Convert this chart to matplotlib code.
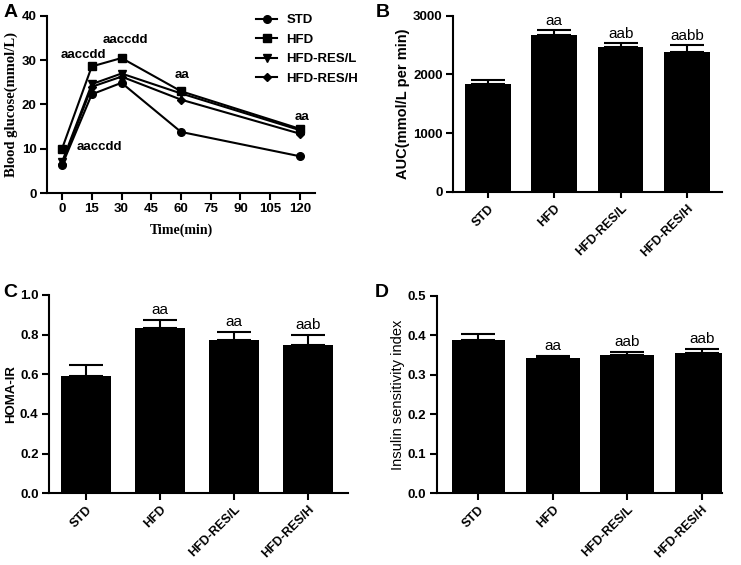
import numpy as np
import matplotlib
matplotlib.use('Agg')
import matplotlib.pyplot as plt

plt.rcParams['font.family'] = 'Liberation Sans'
plt.rcParams['font.weight'] = 'bold'

# Panel A: glucose tolerance
time_min = [0, 15, 30, 60, 120]
glu_std = [6.3, 22.3, 24.9, 13.8, 8.3]
glu_hfd = [10.0, 28.6, 30.5, 23.0, 14.5]
glu_resl = [7.0, 24.6, 27.0, 22.5, 14.2]
glu_resh = [6.6, 24.0, 26.3, 21.1, 13.4]

groups = ['STD', 'HFD', 'HFD-RES/L', 'HFD-RES/H']

# Panel B: AUC
auc = [1834, 2671, 2473, 2388]
auc_err = [73, 79, 57, 108]
auc_sig = ['', 'aa', 'aab', 'aabb']

# Panel C: HOMA-IR
homa = [0.592, 0.832, 0.774, 0.746]
homa_err = [0.057, 0.040, 0.038, 0.052]
homa_sig = ['', 'aa', 'aa', 'aab']

# Panel D: insulin sensitivity index
isi = [0.388, 0.343, 0.351, 0.356]
isi_err = [0.016, 0.004, 0.007, 0.009]
isi_sig = ['', 'aa', 'aab', 'aab']

fig = plt.figure(figsize=(7.41, 5.65), dpi=100)

def style(ax):
    ax.spines['top'].set_visible(False)
    ax.spines['right'].set_visible(False)
    ax.spines['left'].set_linewidth(1.5)
    ax.spines['bottom'].set_linewidth(1.5)
    ax.tick_params(width=1.5, length=5, labelsize=9.5, pad=2.5)
    for lab in ax.get_xticklabels() + ax.get_yticklabels():
        lab.set_fontweight('bold')

# ---- A ----
axA = fig.add_axes([0.0634, 0.6584, 0.3617, 0.3133])
series = [(glu_std, 'o', 'STD'), (glu_hfd, 's', 'HFD'),
          (glu_resl, 'v', 'HFD-RES/L'), (glu_resh, 'D', 'HFD-RES/H')]
for vals, mk, lab in series:
    axA.plot(time_min, vals, color='black', marker=mk, markersize=5.5 if mk != 'D' else 4.5,
             linewidth=1.5, label=lab)
axA.set_xlim(-7.6, 127.6)
axA.set_ylim(0, 40)
axA.set_xticks([0, 15, 30, 45, 60, 75, 90, 105, 120])
axA.set_yticks([0, 10, 20, 30, 40])
axA.set_ylabel('Blood glucose(mmol/L)', family='Liberation Serif', fontsize=10.5,
               fontweight='bold', labelpad=3)
axA.set_xlabel('Time(min)', family='Liberation Serif', fontsize=10, fontweight='bold', labelpad=6)
style(axA)
leg = axA.legend(loc='upper left', frameon=False, fontsize=9.5, handlelength=1.6,
                 handletextpad=0.7, bbox_to_anchor=(0.78, 1.01), labelspacing=0.55,
                 borderpad=0, borderaxespad=0)
for t in leg.get_texts():
    t.set_fontweight('bold')
notesA = [(10.6, 31.2, 'aaccdd'), (32, 34.6, 'aaccdd'), (18.7, 10.4, 'aaccdd'),
          (60.3, 26.6, 'aa'), (120.9, 17.2, 'aa')]
for x, y, s in notesA:
    axA.text(x, y, s, ha='center', va='center', fontsize=9.5, fontweight='bold')

def bar_panel(rect, vals, errs, sig, ylim, yticks, ylabel, xlim, width, ylfs=10, ylw='bold'):
    ax = fig.add_axes(rect)
    x = np.arange(len(groups))
    ax.bar(x, vals, width=width, color='black')
    ax.errorbar(x, vals, yerr=[np.zeros(len(vals)), errs], fmt='none', ecolor='black',
                elinewidth=1.5, capsize=12, capthick=1.5)
    for xi, v, e, s in zip(x, vals, errs, sig):
        if s:
            ax.text(xi, v + e + (ylim[1] - ylim[0]) * 0.015, s, ha='center', va='bottom',
                    fontsize=11, fontweight='normal')
    ax.set_xlim(*xlim)
    ax.set_ylim(*ylim)
    ax.set_yticks(yticks)
    ax.set_xticks(x)
    ax.set_xticklabels(groups, rotation=45, ha='right', rotation_mode='anchor')
    ax.set_ylabel(ylabel, fontsize=ylfs, fontweight=ylw, labelpad=2)
    style(ax)
    for lab in ax.get_xticklabels():
        lab.set_fontsize(9)
    return ax

axB = bar_panel([0.6113, 0.6602, 0.363, 0.312], auc, auc_err, auc_sig, (0, 3000),
                [0, 1000, 2000, 3000], 'AUC(mmol/L per min)', (-0.53, 3.53), 0.69, ylfs=10.5)
axB.tick_params(axis='x', length=4, pad=3.5)

axC = bar_panel([0.0661, 0.1269, 0.4035, 0.351], homa, homa_err, homa_sig, (0, 1.0),
                [0.0, 0.2, 0.4, 0.6, 0.8, 1.0], 'HOMA-IR', (-0.5, 3.54), 0.68, ylfs=9.5)
axC.yaxis.set_major_formatter(plt.FormatStrFormatter('%.1f'))

axD = bar_panel([0.5893, 0.1274, 0.3846, 0.349], isi, isi_err, isi_sig, (0, 0.5),
                [0.0, 0.1, 0.2, 0.3, 0.4, 0.5], 'Insulin sensitivity index', (-0.56, 3.27), 0.72,
                ylfs=10.5, ylw='normal')
axD.yaxis.set_major_formatter(plt.FormatStrFormatter('%.1f'))

for lbl, x, y in [('A', 0.005, 0.977), ('B', 0.507, 0.977), ('C', 0.004, 0.482), ('D', 0.506, 0.482)]:
    fig.text(x, y, lbl, fontsize=14, fontweight='bold', va='center')

fig.savefig('out.png', dpi=100)
